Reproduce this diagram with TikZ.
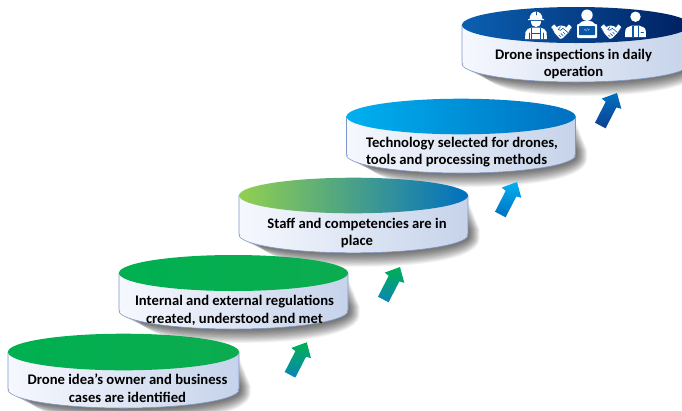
\documentclass[tikz,border=0pt]{standalone}
\usepackage{fontspec}
\setmainfont{Carlito}
\definecolor{sideL}{HTML}{F6F8FE}
\definecolor{sideR}{HTML}{C6D3EA}
\definecolor{sideEdge}{HTML}{7C98C8}
\definecolor{iconBg}{HTML}{0B57A6}
\definecolor{greenA}{HTML}{00B050}
\definecolor{greenB}{HTML}{0CAC50}
\definecolor{limeA}{HTML}{92D050}
\definecolor{blueA}{HTML}{0070C0}
\definecolor{skyA}{HTML}{00B0F0}
\definecolor{navyA}{HTML}{002060}
\definecolor{royalA}{HTML}{0B60B2}
\definecolor{royalB}{HTML}{0A56A6}
\definecolor{tealA}{HTML}{0A85B8}
\definecolor{deepA}{HTML}{0F3F90}
\tikzset{
  x=1bp,y=-1bp,
  disclabel/.style={font=\fontsize{14.65bp}{17.6bp}\selectfont\bfseries,text=black,inner sep=0pt,align=center},
  sideface/.style={left color=sideL,right color=sideR},
  sideline/.style={draw=sideEdge,line width=.55bp,line join=round},
  iconline/.style={draw=iconBg,line width=.6bp,line cap=round},
}
% name, cx, cy, rx, ry, h, top face options
\newcommand{\stepdisc}[7]{%
  \pgfmathsetmacro{\xl}{#2-#4}\pgfmathsetmacro{\xr}{#2+#4}%
  \pgfmathsetmacro{\yb}{#3+#6}\pgfmathsetmacro{\ybb}{#3+#6+#5}%
  \pgfmathsetmacro{\kx}{.552*#4}\pgfmathsetmacro{\ky}{#3+#6+.552*#5}%
  \pgfmathsetmacro{\ys}{#3+6}%
  \foreach \i in {1,...,24}{%
    \fill[black,opacity=.026,shift={(1,1)}]
      (\xl+\i*.45,\ys+\i*1.1) -- (\xr+\i*.45,\ys+\i*1.1) -- (\xr+\i*.45,\yb+\i*.1)
      .. controls (\xr+\i*.45,\ky+\i*.5) and (#2+\kx+\i*.45,\ybb+\i*.55) .. (#2+\i*.15,\ybb+\i*.55)
      .. controls (#2-\kx+\i*.15,\ybb+\i*.55) and (\xl+\i*.75,\ky+\i*.5) .. (\xl+\i*.75,\yb) -- cycle;
  }%
  \path[sideface,sideline]
    (\xl,#3) -- (\xl,\yb-1) -- (\xl+1,\yb) -- (\xl,\yb+.6)
    .. controls (\xl+3,\ky) and (#2-\kx,\ybb) .. (#2,\ybb)
    .. controls (#2+\kx,\ybb) and (\xr-3,\ky) .. (\xr,\yb+.6)
    -- (\xr-1,\yb) -- (\xr,\yb-1) -- (\xr,#3) -- cycle;
  \path[#7] (#2,#3) ellipse [x radius=#4 bp,y radius=#5 bp];
  \coordinate (#1) at (#2,#3);
}
\newcommand{\blockarrow}[3]{%
  \path[shift={(#1)},bottom color=#2,top color=#3]
    (0,0) -- (-15.3,5.6) -- (-11.3,8.8) -- (-22,29.7) -- (-11.4,35.3) -- (-.66,14.4) -- (4.3,15.8) -- cycle;
}
\newcommand{\handshake}[1]{%
  \begin{scope}[shift={(#1)}]
    \fill[white,rounded corners=.5bp] (-10.5,-4.2) -- (-7,-7.4) -- (-4.6,-4.6) -- (-1,-6) -- (2,-5.6) -- (5,-4.4) -- (7,-7.4) -- (10.5,-4.2) -- (7.6,.4) -- (1,6.8) -- (-1.4,7.4) -- (-7,1.4) -- cycle;
    \draw[iconline] (-7,-7.2) -- (-4.2,-4.5) (-7.4,.9) -- (-10,-3.6) (7,-7.2) -- (4.4,-4.2) (7.4,.5) -- (10,-3.6);
    \draw[iconline] (-1,-4.8) -- (-3.2,-2) -- (-1.2,-1.2) -- (1.4,-3.2) -- (6.4,1);
    \draw[iconline] (-2.5,3.6) -- (-.8,5.2) (-.6,2) -- (1.6,4.2) (1.6,.6) -- (3.5,2.6);
  \end{scope}}
\begin{document}
\begin{tikzpicture}
\useasboundingbox[fill=white] (0,0) rectangle (682,410);
\begin{scope}
\clip (0,0) rectangle (682,410);
\stepdisc{d5}{576}{25}{114}{18}{39}{left color=royalA,middle color=royalB,right color=navyA}
\stepdisc{d4}{461}{116.5}{114.5}{17.8}{38.7}{left color=skyA,right color=blueA}
\stepdisc{d3}{353.5}{195.5}{114.5}{17.8}{39.5}{left color=limeA,right color=blueA}
\stepdisc{d2}{233.5}{273}{114.5}{18}{38}{left color=greenA,right color=greenB}
\stepdisc{d1}{123.5}{352}{115.5}{18.3}{37.7}{left color=greenA,right color=greenB}
\end{scope}
% block arrows between the steps
\coordinate (a1) at (306.7,342.3);
\coordinate (a2) at (400,267);
\coordinate (a3) at (517,182);
\coordinate (a4) at (617,93);
\blockarrow{a1}{tealA}{greenA}
\blockarrow{a2}{tealA}{greenA}
\blockarrow{a3}{blueA}{skyA}
\blockarrow{a4}{deepA}{blueA}
% labels
\node[disclabel] (t1) at (127.5,388.5) {Drone idea’s owner and business\\cases are identified};
\node[disclabel] (t2) at (234.5,310.5) {Internal and external regulations\\created, understood and met};
\node[disclabel] (t3) at (357,233) {Staff and competencies are in\\place};
\node[disclabel,align=left] (t4) at (462,152) {Technology selected for drones,\\tools and processing methods};
\node[disclabel] (t5) at (573.5,64) {Drone inspections in daily\\operation};
% icons: worker
\fill[white] (529.5,19) arc [start angle=180,end angle=0,x radius=6.5bp,y radius=7.5bp] -- (544,19) -- (544,20) -- (528,20) -- (528,19) -- cycle;
\fill[white] (531,21) -- (541,21) .. controls (541,25) and (539,27) .. (536,27) .. controls (533,27) and (531,25) .. (531,21) -- cycle;
\fill[white] (525,39) -- (525.5,32) .. controls (526,29) and (529,28.5) .. (532,27.5) -- (540,27.5) .. controls (543,28.5) and (546,29) .. (546.5,32) -- (547,39) -- cycle;
\draw[iconline] (531.5,28) -- (531.5,39) (540.5,28) -- (540.5,39) (531.5,33.5) -- (540.5,33.5) (529,33) -- (529,39) (543,33) -- (543,39);
\draw[iconline] (536,11.5) -- (536,15);
\handshake{561.5,31.5}
% icons: laptop user
\fill[white] (587,15.2) circle [radius=5.7bp];
\fill[white] (579,24) .. controls (580,21.5) and (583,21) .. (587,21) .. controls (591,21) and (594,21.5) .. (595,24) -- cycle;
\fill[white,rounded corners=1bp] (577,24) rectangle (597,38);
\fill[iconBg,rounded corners=.6bp] (579,26) rectangle (595,35);
\node[font=\fontsize{4bp}{4bp}\selectfont\bfseries,text=white,inner sep=0pt] (codeglyph) at (587,30.5) {</>};
\handshake{611,31.5}
% icons: businessman
\fill[white] (635.5,16.7) circle [radius=5.2bp];
\fill[white] (625,37) -- (625.3,30.5) .. controls (625.6,27.5) and (629,26.5) .. (632,25.5) -- (639,25.5) .. controls (642,26.5) and (645.4,27.5) .. (645.7,30.5) -- (646,37) -- cycle;
\draw[iconBg,line width=1.1bp] (633,26) -- (633,37) (638.5,26) -- (638.5,37);
\fill[white] (634.8,26) -- (636.7,26) -- (636.2,28) -- (636.9,35) -- (635.8,36.5) -- (634.6,35) -- (635.3,28) -- cycle;
\draw[iconline] (641,32) -- (643.5,32);
\end{tikzpicture}
\end{document}
